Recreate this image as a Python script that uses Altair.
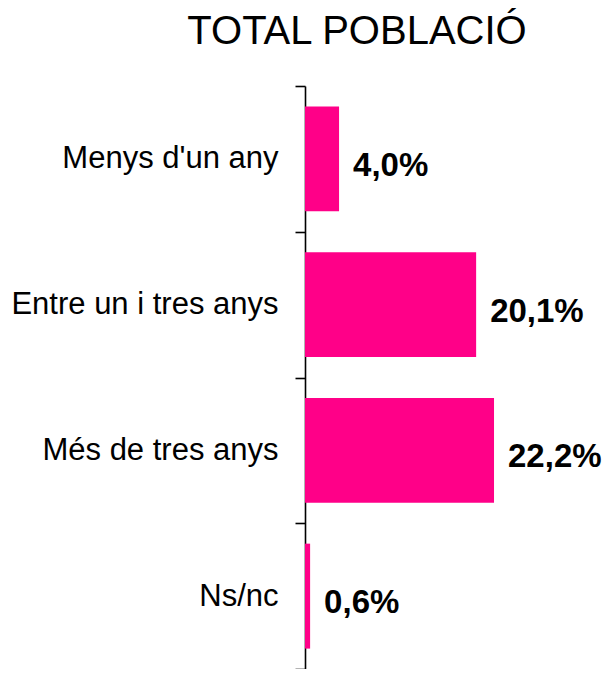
import altair as alt
import pandas as pd

categories = ["Menys d'un any", "Entre un i tres anys", "Més de tres anys", "Ns/nc"]
values = [4.0, 20.1, 22.2, 0.6]
labels = [f"{v:.1f}".replace(".", ",") + "%" for v in values]

df = pd.DataFrame({"cat": categories, "val": values, "label": labels})

FONT = "Liberation Sans, Arial, Helvetica, sans-serif"
PINK = "#FF0088"

y_enc = alt.Y(
    "cat:N",
    sort=categories,
    title=None,
    scale=alt.Scale(paddingInner=0, paddingOuter=0),
    axis=alt.Axis(
        domainColor="black",
        domainWidth=1.6,
        tickColor="black",
        tickWidth=1.6,
        tickSize=10,
        tickBand="extent",
        labelFont=FONT,
        labelFontSize=31,
        labelColor="black",
        labelPadding=17,
        labelLimit=400,
        grid=False,
    ),
)
x_enc = alt.X("val:Q", title=None, axis=None, scale=alt.Scale(domain=[0, 34.6]))

bars = alt.Chart(df).mark_bar(color=PINK, height=alt.RelativeBandSize(0.72)).encode(
    y=y_enc, x=x_enc
)

text = alt.Chart(df).mark_text(
    align="left",
    baseline="middle",
    dx=14,
    dy=7,
    font=FONT,
    fontSize=33,
    fontWeight="bold",
    color="black",
).encode(y=alt.Y("cat:N", sort=categories), x=alt.X("val:Q"), text="label:N")

chart = (
    alt.layer(bars, text)
    .properties(
        width=298,
        height=583,
        autosize=alt.AutoSizeParams(type="none"),
        padding={"left": 297, "top": 78, "right": 0, "bottom": 0},
        title=alt.Title(
            "TOTAL POBLACIÓ",
            font=FONT,
            fontSize=40,
            fontWeight="normal",
            color="black",
            anchor="middle",
            dx=-97,
            offset=18,
        ),
    )
    .configure_view(stroke=None)
)

chart.save("out.html", embed_options={"renderer": "svg", "actions": False})
